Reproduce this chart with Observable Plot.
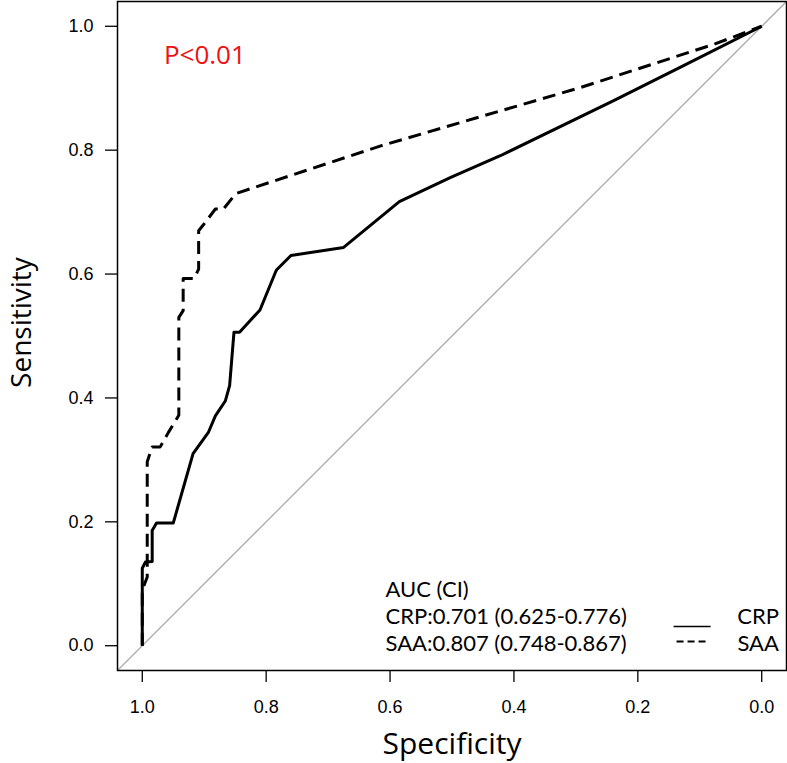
<!DOCTYPE html>
<html>
<head>
<meta charset="utf-8">
<script src="https://cdn.jsdelivr.net/npm/d3@7"></script>
<script src="https://cdn.jsdelivr.net/npm/@observablehq/plot@0.6"></script>
<style>
  html, body { margin: 0; padding: 0; background: white; }
  #chart g[aria-label$="tick label"] text,
  #chart g[aria-label$="tick label"] { font-size: 18px !important; font-family: "Liberation Sans", Arial, sans-serif !important; }
</style>
</head>
<body>
<div id="chart"></div>
<script>
// ---- data ----
const crpSpec = [1.000, 1.000, 0.995, 0.984, 0.984, 0.977, 0.950, 0.918, 0.893, 0.882, 0.866, 0.859, 0.852, 0.843, 0.810, 0.785, 0.783, 0.760, 0.675, 0.585, 0.502, 0.422, 0.239, 0.131, 0.000];
const crpSens = [0.000, 0.125, 0.135, 0.136, 0.186, 0.198, 0.198, 0.310, 0.345, 0.371, 0.395, 0.420, 0.506, 0.506, 0.542, 0.603, 0.607, 0.630, 0.643, 0.717, 0.756, 0.791, 0.880, 0.934, 1.000];

const saaSpec = [1.000, 1.000, 0.992, 0.992, 0.984, 0.971, 0.958, 0.941, 0.941, 0.934, 0.934, 0.916, 0.909, 0.909, 0.901, 0.882, 0.869, 0.849, 0.615, 0.293, 0.077, 0.000];
const saaSens = [0.000, 0.090, 0.111, 0.297, 0.321, 0.321, 0.344, 0.372, 0.530, 0.541, 0.593, 0.593, 0.608, 0.670, 0.680, 0.705, 0.705, 0.730, 0.807, 0.901, 0.971, 1.000];

const xTicks = [1.0, 0.8, 0.6, 0.4, 0.2, 0.0];
const yTicks = [0.0, 0.2, 0.4, 0.6, 0.8, 1.0];
const seriesNames = ["CRP", "SAA"];
const legendRows = ["AUC (CI)", "CRP:0.701 (0.625-0.776)", "SAA:0.807 (0.748-0.867)"];
const pLabel = "P<0.01";
const xTitle = "Specificity";
const yTitle = "Sensitivity";

// ---- tables for Plot ----
const crp = crpSpec.map((s, i) => ({spec: s, sens: crpSens[i]}));
const saa = saaSpec.map((s, i) => ({spec: s, sens: saaSens[i]}));
const xDomain = [1.04, -0.04];
const diag = xDomain.map(s => ({spec: s, sens: 1 - s}));

const titleFont = "Open Sans";
const legendFont = "Lato";

const plot = Plot.plot({
  width: 787,
  height: 763,
  marginLeft: 117,
  marginRight: 1,
  marginTop: 1,
  marginBottom: 93,
  style: {fontFamily: "Liberation Sans", fontSize: "18px", background: "white", color: "black"},
  x: {domain: xDomain},
  y: {domain: [-0.04, 1.04]},
  marks: [
    Plot.line(diag, {x: "spec", y: "sens", stroke: "#aaaaaa", strokeWidth: 1.3, clip: true}),
    Plot.line(crp, {x: "spec", y: "sens", stroke: "black", strokeWidth: 3, strokeLinejoin: "round", strokeLinecap: "butt"}),
    Plot.line(saa, {x: "spec", y: "sens", stroke: "black", strokeWidth: 3, strokeDasharray: "13,7", strokeLinejoin: "round", strokeLinecap: "butt"}),
    Plot.frame({stroke: "black", strokeWidth: 1.5}),
    Plot.axisX({ticks: xTicks, tickSize: 12, tickPadding: 18, tickFormat: d3.format(".1f"), label: null, fontSize: 18, strokeWidth: 1.3}),
    Plot.axisY({ticks: yTicks, tickSize: 12, tickPadding: 12, tickFormat: d3.format(".1f"), label: null, fontSize: 18, strokeWidth: 1.3}),
    // axis titles
    Plot.text([xTitle], {text: d => d, frameAnchor: "bottom", textAnchor: "middle", lineAnchor: "bottom", dy: 83, fontSize: 30, fontFamily: titleFont, fill: "black"}),
    Plot.text([yTitle], {text: d => d, frameAnchor: "left", rotate: -90, textAnchor: "middle", lineAnchor: "bottom", dx: -86.5, dy: -13.5, fontSize: 28, fontFamily: titleFont, fill: "black"}),
    // p-value
    Plot.text([pLabel], {text: d => d, frameAnchor: "top-left", dx: 46.4, dy: 62.3, lineAnchor: "bottom", textAnchor: "start", fontSize: 26, fontFamily: titleFont, fill: "#ee1111"}),
    // legend text
    Plot.text([legendRows.join("\n")], {text: d => d, frameAnchor: "bottom-left", dx: 268, dy: -20, lineAnchor: "bottom", textAnchor: "start", lineHeight: 27 / 22, fontSize: 22, fontFamily: legendFont, fill: "black"}),
    Plot.text([seriesNames.join("\n")], {text: d => d, frameAnchor: "bottom-left", dx: 640.6, dy: -20, lineAnchor: "bottom", textAnchor: "middle", lineHeight: 27 / 22, fontSize: 22, fontFamily: legendFont, fill: "black"}),
    // legend keys
    Plot.link([seriesNames[0]], {x1: () => 0.1423, x2: () => 0.0825, y1: () => 0.031, y2: () => 0.031, stroke: "black", strokeWidth: 1.3}),
    Plot.link([seriesNames[1]], {x1: () => 0.1375, x2: () => 0.0906, y1: () => 0.0068, y2: () => 0.0068, stroke: "black", strokeWidth: 2, strokeDasharray: "7,4"})
  ]
});

document.getElementById("chart").appendChild(plot);
</script>
</body>
</html>
